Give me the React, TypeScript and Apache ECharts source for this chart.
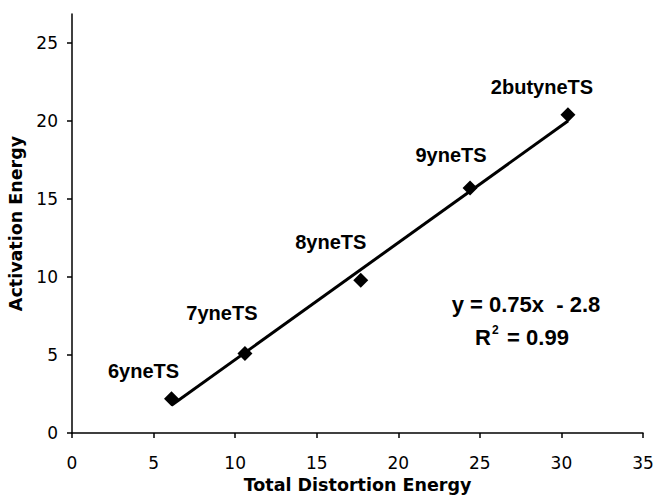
import React, { useEffect, useRef } from "react";
import * as echarts from "echarts";

const names = ["6yneTS", "7yneTS", "8yneTS", "9yneTS", "2butyneTS"];
const distortion = [6.1, 10.6, 17.7, 24.4, 30.4];
const activation = [2.2, 5.1, 9.8, 15.7, 20.4];
const slope = 0.75;
const intercept = -2.8;
const xTicks = [0, 5, 10, 15, 20, 25, 30, 35];
const yTicks = [0, 5, 10, 15, 20, 25];
const labelOffsets = [
  [-28, -28],
  [-23, -40],
  [-30, -38],
  [-19, -33],
  [-26, -28],
];

export default function App() {
  const ref = useRef<HTMLDivElement>(null);
  useEffect(() => {
    const chart = echarts.init(ref.current!, null, { renderer: "svg" });
    const xMin = Math.min(...distortion);
    const xMax = Math.max(...distortion);
    const trend = [
      [xMin, slope * xMin + intercept],
      [xMax, slope * xMax + intercept],
    ];
    const axisFont = { fontFamily: "DejaVu Sans", fontSize: 17, color: "#000" };
    const titleFont = { fontFamily: "DejaVu Sans", fontSize: 17.5, fontWeight: "bold", color: "#000" };
    const eqFont = { fontFamily: "Liberation Sans", fontWeight: "bold", fontSize: 22, fill: "#000" };
    chart.setOption({
      animation: false,
      backgroundColor: "#fff",
      grid: { left: 72, right: 13, top: 14, bottom: 63, containLabel: false, outerBoundsMode: "none" },
      xAxis: {
        type: "value",
        min: 0,
        max: 35,
        interval: 5,
        name: "Total Distortion Energy",
        nameLocation: "middle",
        nameGap: 43,
        nameTextStyle: titleFont,
        axisLine: { lineStyle: { color: "#000", width: 1.5 } },
        axisTick: { length: 5, lineStyle: { color: "#000", width: 1.5 }, customValues: xTicks },
        axisLabel: { ...axisFont, margin: 21, customValues: xTicks },
        splitLine: { show: false },
      },
      yAxis: {
        type: "value",
        min: 0,
        max: 26.86,
        name: "Activation Energy",
        nameLocation: "middle",
        nameGap: 40,
        nameTextStyle: titleFont,
        axisLine: { show: true, lineStyle: { color: "#000", width: 1.5 } },
        axisTick: { show: true, length: 5, lineStyle: { color: "#000", width: 1.5 }, customValues: yTicks },
        axisLabel: { ...axisFont, margin: 14, customValues: yTicks },
        splitLine: { show: false },
      },
      series: [
        {
          type: "line",
          data: trend,
          showSymbol: false,
          symbol: "none",
          lineStyle: { color: "#000", width: 3 },
          silent: true,
          z: 2,
        },
        {
          type: "scatter",
          symbol: "diamond",
          symbolSize: 15,
          itemStyle: { color: "#000", opacity: 1 },
          z: 3,
          data: distortion.map((x, i) => ({
            value: [x, activation[i]],
            name: names[i],
            label: {
              show: true,
              position: "inside",
              offset: labelOffsets[i],
              formatter: names[i],
              fontFamily: "Liberation Sans",
              fontWeight: "bold",
              fontSize: 20,
              color: "#000",
              textBorderWidth: 0,
            },
          })),
        },
      ],
      graphic: [
        {
          type: "text",
          x: 526,
          y: 304,
          style: { ...eqFont, text: "y = 0.75x  - 2.8", align: "center", verticalAlign: "middle" },
        },
        {
          type: "text",
          x: 475,
          y: 337,
          style: { ...eqFont, text: "R", align: "left", verticalAlign: "middle" },
        },
        {
          type: "text",
          x: 492,
          y: 330,
          style: { ...eqFont, fontSize: 12, text: "2", align: "left", verticalAlign: "middle" },
        },
        {
          type: "text",
          x: 501,
          y: 337,
          style: { ...eqFont, text: " = 0.99", align: "left", verticalAlign: "middle" },
        },
      ],
    });
    return () => chart.dispose();
  }, []);
  return (
    <div
      ref={ref}
      style={{ position: "absolute", left: 0, top: 0, width: 656, height: 496 }}
    />
  );
}
